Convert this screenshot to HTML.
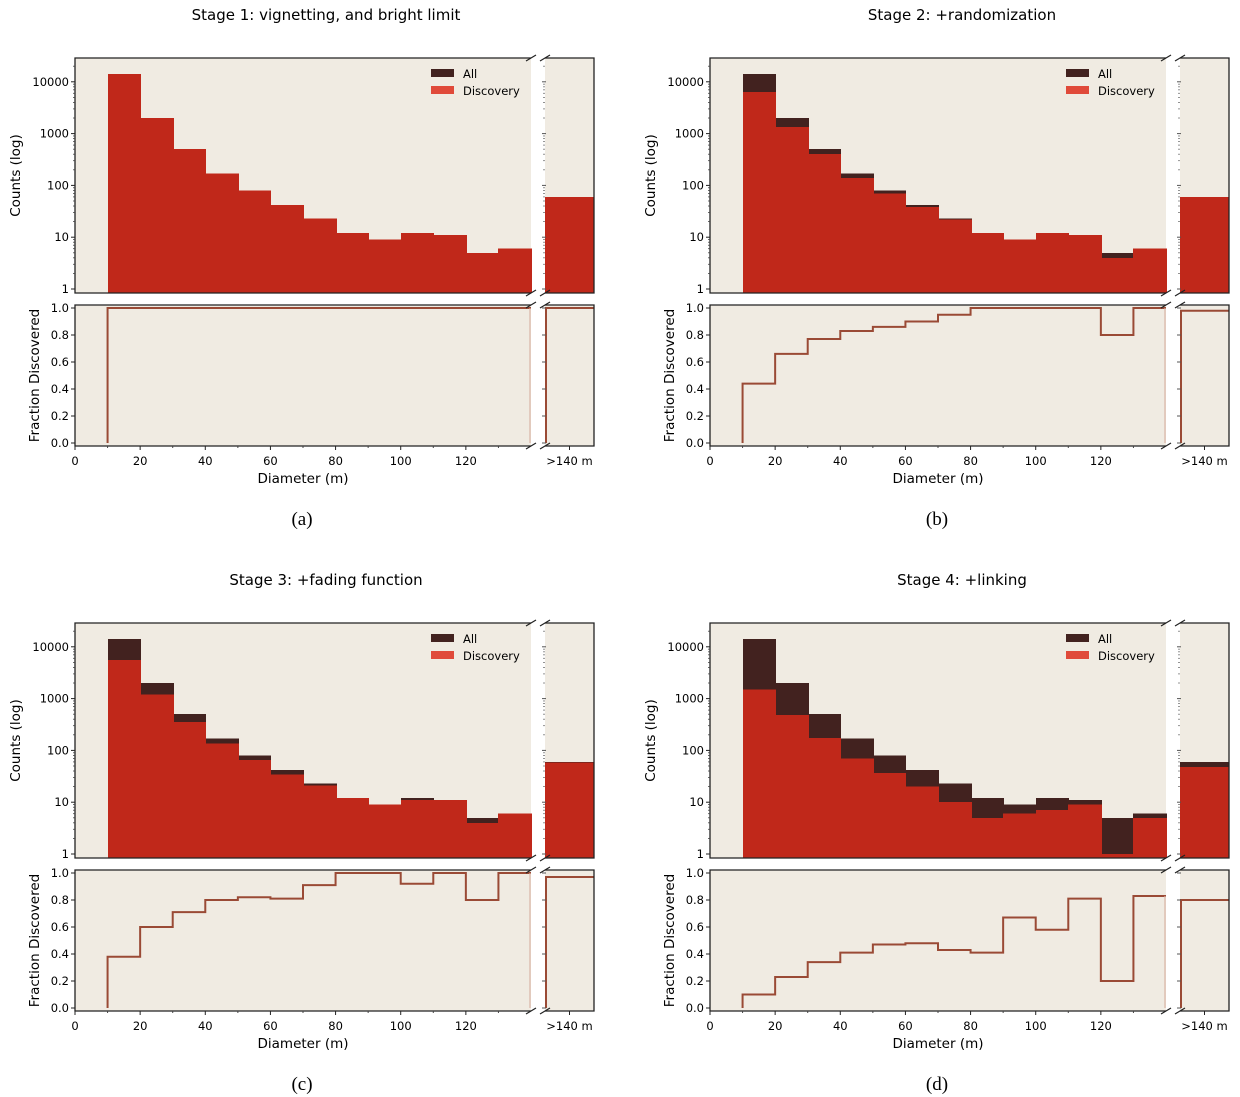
<!DOCTYPE html>
<html><head><meta charset="utf-8">
<style>
body{margin:0;background:#fff;}
svg{display:block;font-family:"DejaVu Sans","Liberation Sans",sans-serif;}
.cap{font-family:"Liberation Serif",serif;}
</style></head>
<body>
<svg id="fig" width="1240" height="1097" viewBox="0 0 1240 1097" xmlns="http://www.w3.org/2000/svg"></svg>
<script>
const binEdges = [10,20,30,40,50,60,70,80,90,100,110,120,130,140];
const allCounts = [14000,2000,500,170,80,42,23,12,9,12,11,5,6];
const allOver140 = 60;
const disc1 = [14000,2000,500,170,80,42,23,12,9,12,11,5,6];
const disc1Over = 60;
const frac1 = [1,1,1,1,1,1,1,1,1,1,1,1,1];
const frac1Over = 1.0;
const disc2 = [6300,1350,400,140,70,38,22,12,9,12,11,4,6];
const disc2Over = 60;
const frac2 = [0.44,0.66,0.77,0.83,0.86,0.90,0.95,1,1,1,1,0.80,1];
const frac2Over = 0.98;
const disc3 = [5500,1200,350,135,65,34,21,12,9,11,11,4,6];
const disc3Over = 58;
const frac3 = [0.38,0.60,0.71,0.80,0.82,0.81,0.91,1,1,0.92,1,0.80,1];
const frac3Over = 0.97;
const disc4 = [1500,480,175,70,37,20,10,5,6,7,9,1,5];
const disc4Over = 48;
const frac4 = [0.10,0.23,0.34,0.41,0.47,0.48,0.43,0.41,0.67,0.58,0.81,0.20,0.83];
const frac4Over = 0.80;
const xTicks = [0,20,40,60,80,100,120];
const logTicks = [1,10,100,1000,10000];
const fracTicks = [0,0.2,0.4,0.6,0.8,1.0];
const titles = ["Stage 1: vignetting, and bright limit","Stage 2: +randomization","Stage 3: +fading function","Stage 4: +linking"];
const captions = ["(a)","(b)","(c)","(d)"];

const NS="http://www.w3.org/2000/svg";
const svg=document.getElementById('fig');
function mk(tag,attrs,parent,text){const e=document.createElementNS(NS,tag);for(const k in attrs)e.setAttribute(k,attrs[k]);if(text!==undefined)e.textContent=text;(parent||svg).appendChild(e);return e;}

const BG="#f0ebe2",BAR="#c0281a",ALL="#42221f",LINE="#9a4a35";

function panel(i,disc,discOver,frac,fracOver){
  const ox=(i%2)*635, oy=Math.floor(i/2)*565;
  const g=mk('g',{});
  
  
  const L=75+ox,R=531+ox,RL=545+ox,RR=594+ox;
  const T=58+oy,B=293+oy,FT=305+oy,FB=446+oy;
  const xs=v=>L+(v/140)*(R-L);
  const ys=v=>289+oy-51.8*Math.log10(v);
  const fy=v=>443+oy-v*135;
  const t=mk('text',{x:i%2?962:326,y:20+oy,'text-anchor':'middle','font-size':15},g,titles[i]);
  
  
  mk('rect',{x:L,y:T,width:R-L,height:B-T,fill:BG},g);
  mk('rect',{x:RL,y:T,width:RR-RL,height:B-T,fill:BG},g);
  mk('rect',{x:L,y:FT,width:R-L,height:FB-FT,fill:BG},g);
  mk('rect',{x:RL,y:FT,width:RR-RL,height:FB-FT,fill:BG},g);
  const bars=mk('g',{'shape-rendering':'crispEdges'},g);
  for(let k=0;k<allCounts.length;k++){
    const x0=Math.round(xs(binEdges[k])),x1=Math.round(xs(binEdges[k+1]))+1;
    const ba=mk('rect',{x:x0,y:ys(allCounts[k]),width:x1-x0,height:B-ys(allCounts[k]),fill:ALL},bars);
    
    
  }
  for(let k=0;k<allCounts.length;k++){
    const x0=Math.round(xs(binEdges[k])),x1=Math.round(xs(binEdges[k+1]))+1;
    const bd=mk('rect',{x:x0,y:ys(disc[k]),width:x1-x0,height:B-ys(disc[k]),fill:BAR},bars);
    
    
  }
  const oa=mk('rect',{x:RL,y:ys(allOver140),width:RR-RL,height:B-ys(allOver140),fill:ALL},bars);
  
  
  const od=mk('rect',{x:RL,y:ys(discOver),width:RR-RL,height:B-ys(discOver),fill:BAR},bars);
  
  
  let d='M'+xs(10)+' '+fy(0);
  for(let k=0;k<frac.length;k++){d+=' L'+xs(binEdges[k])+' '+fy(frac[k])+' L'+xs(binEdges[k+1])+' '+fy(frac[k]);}
  const fl=mk('path',{d:d,fill:'none',stroke:LINE,'stroke-width':2},g);
  
  
  mk('line',{x1:R-1,y1:fy(frac[frac.length-1]),x2:R-1,y2:fy(0),stroke:'#d9b3a5','stroke-width':1.2},g);
  const fo=mk('path',{d:'M'+(RL+1)+' '+fy(0)+' L'+(RL+1)+' '+fy(fracOver)+' L'+RR+' '+fy(fracOver),fill:'none',stroke:LINE,'stroke-width':2},g);
  
  
  const sp={stroke:'#222','stroke-width':1.3,fill:'none'};
  mk('path',Object.assign({d:`M${R} ${T} L${L} ${T} L${L} ${B} L${R} ${B}`},sp),g);
  mk('path',Object.assign({d:`M${RL} ${T} L${RR} ${T} L${RR} ${B} L${RL} ${B}`},sp),g);
  mk('path',Object.assign({d:`M${R} ${FT} L${L} ${FT} L${L} ${FB} L${R} ${FB}`},sp),g);
  mk('path',Object.assign({d:`M${RL} ${FT} L${RR} ${FT} L${RR} ${FB} L${RL} ${FB}`},sp),g);
  [[R,T],[RL,T],[R,B],[RL,B],[R,FT],[RL,FT],[R,FB],[RL,FB]].forEach(p=>mk('line',{x1:p[0]-5,y1:p[1]+3,x2:p[0]+5,y2:p[1]-3,stroke:'#222','stroke-width':1.2},g));
  logTicks.forEach(v=>{
    const y=ys(v);
    mk('line',{x1:L-4,y1:y,x2:L,y2:y,stroke:'#222'},g);
    mk('line',{x1:RL-3,y1:y,x2:RL+1,y2:y,stroke:'#555'},g);
    const tl=mk('text',{x:L-6,y:y+4,'text-anchor':'end','font-size':11.5},g,String(v));
    
    
    for(let m=2;m<10;m++){const yy=ys(v*m);if(yy<T)break;mk('line',{x1:L-2,y1:yy,x2:L,y2:yy,stroke:'#444','stroke-width':0.8},g);mk('line',{x1:RL-2,y1:yy,x2:RL,y2:yy,stroke:'#777','stroke-width':0.8},g);}
  });
  fracTicks.forEach(v=>{
    const y=fy(v);
    mk('line',{x1:L-4,y1:y,x2:L,y2:y,stroke:'#222'},g);
    mk('line',{x1:RL-3,y1:y,x2:RL+1,y2:y,stroke:'#555'},g);
    const tl=mk('text',{x:L-6,y:y+4,'text-anchor':'end','font-size':11.5},g,v.toFixed(1));
    
    
  });
  xTicks.forEach(v=>{
    const x=xs(v);
    mk('line',{x1:x,y1:FB,x2:x,y2:FB+4,stroke:'#222'},g);
    const tl=mk('text',{x:x,y:FB+19,'text-anchor':'middle','font-size':11.5},g,String(v));
    
    
  });
  for(let v=10;v<140;v+=20){mk('line',{x1:xs(v),y1:FB,x2:xs(v),y2:FB+2,stroke:'#444'},g);}
  mk('line',{x1:(RL+RR)/2,y1:FB,x2:(RL+RR)/2,y2:FB+4,stroke:'#222'},g);
  const ol=mk('text',{x:(RL+RR)/2,y:FB+19,'text-anchor':'middle','font-size':11.5},g,'>140 m');
  
  
  const xl=mk('text',{x:(L+R)/2,y:FB+37,'text-anchor':'middle','font-size':13.5},g,'Diameter (m)');
  
  
  const yl=mk('text',{transform:`translate(${20+ox},${(T+B)/2}) rotate(-90)`,'text-anchor':'middle','font-size':13.5},g,'Counts (log)');
  
  
  const yl2=mk('text',{transform:`translate(${39+ox},${(FT+FB)/2}) rotate(-90)`,'text-anchor':'middle','font-size':13.5},g,'Fraction Discovered');
  
  
  const lg=mk('g',{},g);
  
  
  mk('rect',{x:431+ox,y:69+oy,width:23,height:8,fill:ALL},lg);
  mk('text',{x:463+ox,y:78+oy,'font-size':11.5},lg,'All');
  mk('rect',{x:431+ox,y:86+oy,width:23,height:8,fill:'#e04a3a'},lg);
  mk('text',{x:463+ox,y:95+oy,'font-size':11.5},lg,'Discovery');
  const c=mk('text',{x:302+ox,y:525+oy,'text-anchor':'middle','font-size':19,class:'cap'},g,captions[i]);
  
  
}
panel(0,disc1,disc1Over,frac1,frac1Over);
panel(1,disc2,disc2Over,frac2,frac2Over);
panel(2,disc3,disc3Over,frac3,frac3Over);
panel(3,disc4,disc4Over,frac4,frac4Over);
</script>
</body></html>
